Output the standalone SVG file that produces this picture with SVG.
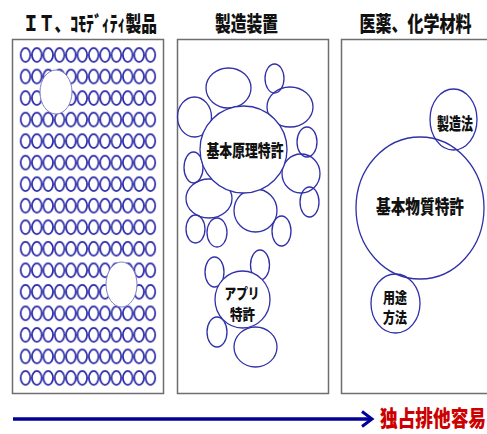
<svg xmlns="http://www.w3.org/2000/svg" width="487" height="434" viewBox="0 0 487 434">
<style>
.panel{fill:#fff;stroke:#6e6e6e;stroke-width:1.5}
.c{fill:none;stroke:#3030a8;stroke-width:1.3}
.cw{fill:#fff;stroke:#3030a8;stroke-width:1.3}
.hole{fill:#fff;stroke:#8080c8;stroke-width:1}
.t{font-family:"Noto Sans CJK JP","Noto Sans",sans-serif;font-weight:900;fill:#111;text-anchor:middle}
</style>
<defs>
<pattern id="oo" patternUnits="userSpaceOnUse" x="19.82" y="44.23" width="11.36" height="21.53">
<ellipse cx="5.68" cy="10.77" rx="4.8" ry="7" fill="none" stroke="#2a2aa8" stroke-width="1.7"/>
</pattern>
</defs>
<rect width="487" height="434" fill="#fff"/>
<g id="titles">
<text class="t" x="90" y="30.5" font-size="21" textLength="134" lengthAdjust="spacingAndGlyphs">ＩＴ、ｺﾓﾃﾞｨﾃｨ製品</text>
<text class="t" x="246.5" y="30.5" font-size="21" textLength="63" lengthAdjust="spacingAndGlyphs">製造装置</text>
<text class="t" x="415.5" y="30.5" font-size="21" textLength="112" lengthAdjust="spacingAndGlyphs">医薬、化学材料</text>
</g>
<g id="panel-it">
<rect class="panel" x="12.5" y="39.5" width="151" height="354"/>
<rect x="19.8" y="44.2" width="136.3" height="344.5" fill="url(#oo)"/>
<ellipse class="hole" cx="56" cy="92" rx="16" ry="22"/>
<ellipse class="hole" cx="121.5" cy="284.5" rx="15.5" ry="22.5"/>
</g>
<g id="panel-equipment">
<rect class="panel" x="177.5" y="39.5" width="151" height="354"/>
<ellipse class="c" cx="228.5" cy="88" rx="22.5" ry="20"/>
<ellipse class="c" cx="274.5" cy="78.5" rx="9.5" ry="14.5"/>
<ellipse class="c" cx="290" cy="107" rx="23" ry="20"/>
<ellipse class="c" cx="194.5" cy="117" rx="17" ry="20"/>
<ellipse class="c" cx="307" cy="142" rx="10" ry="15"/>
<ellipse class="c" cx="193.5" cy="167.5" rx="9.5" ry="15.5"/>
<ellipse class="c" cx="301" cy="173.5" rx="19" ry="19.5"/>
<ellipse class="c" cx="209" cy="198.5" rx="23" ry="19.5"/>
<ellipse class="c" cx="255.5" cy="210.5" rx="21.5" ry="21.5"/>
<ellipse class="c" cx="309.5" cy="202" rx="9.5" ry="15"/>
<ellipse class="c" cx="195.5" cy="229" rx="9.5" ry="14"/>
<ellipse class="c" cx="217" cy="232.5" rx="10" ry="14.5"/>
<ellipse class="c" cx="281.5" cy="231" rx="9.5" ry="15"/>
<ellipse class="c" cx="214.5" cy="272" rx="9.5" ry="15"/>
<ellipse class="c" cx="260" cy="265" rx="9.5" ry="15"/>
<ellipse class="c" cx="217" cy="332" rx="10" ry="15"/>
<ellipse class="c" cx="255.5" cy="347" rx="21.5" ry="20"/>
</g>
<g id="node-basic-principle">
<ellipse class="cw" cx="243.5" cy="149.5" rx="43.5" ry="43.5"/>
<text class="t" x="245" y="156.5" font-size="17" textLength="77" lengthAdjust="spacingAndGlyphs">基本原理特許</text>
</g>
<g id="node-app">
<ellipse class="cw" cx="242.5" cy="299.5" rx="27.5" ry="28.5"/>
<text class="t" x="242" y="298.5" font-size="15" textLength="35" lengthAdjust="spacingAndGlyphs">アプリ</text>
<text class="t" x="242.5" y="320" font-size="15" textLength="25" lengthAdjust="spacingAndGlyphs">特許</text>
</g>
<g id="panel-pharma">
<rect class="panel" x="341.5" y="39.5" width="150" height="354"/>
</g>
<g id="node-basic-substance">
<ellipse class="c" cx="420" cy="208" rx="64" ry="71"/>
<text class="t" x="420" y="214" font-size="19" textLength="88" lengthAdjust="spacingAndGlyphs">基本物質特許</text>
</g>
<g id="node-manufacturing">
<ellipse class="c" cx="453.5" cy="119.5" rx="23.5" ry="30.5"/>
<text class="t" x="455" y="129.5" font-size="17" textLength="36" lengthAdjust="spacingAndGlyphs">製造法</text>
</g>
<g id="node-use">
<ellipse class="c" cx="395.5" cy="303.5" rx="24.5" ry="29.5"/>
<text class="t" x="395" y="302.5" font-size="15" textLength="24" lengthAdjust="spacingAndGlyphs">用途</text>
<text class="t" x="395" y="323" font-size="15" textLength="24" lengthAdjust="spacingAndGlyphs">方法</text>
</g>
<g id="connectors">
<line x1="13" y1="419" x2="371" y2="419" stroke="#00009a" stroke-width="3.5"/>
<path d="M362,411.5 L372,419 L362,426.5" fill="none" stroke="#00009a" stroke-width="3"/>
</g>
<g id="label-exclusive">
<text x="433" y="425.5" font-family="'Noto Sans CJK JP','Noto Sans',sans-serif" font-weight="900" font-size="22" fill="#cc0000" text-anchor="middle" textLength="106" lengthAdjust="spacingAndGlyphs">独占排他容易</text>
</g>
</svg>
